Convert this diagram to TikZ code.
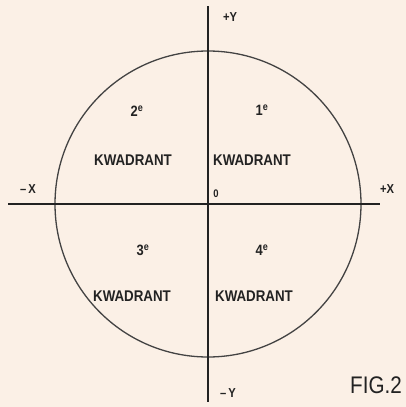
\documentclass[tikz,border=0pt]{standalone}
\usepackage{fontspec}
\setmainfont{Liberation Sans}
\definecolor{paper}{HTML}{FBF0E6}
\definecolor{ink}{HTML}{222222}
\newcommand{\cond}[1]{\scalebox{0.86}[1]{#1}}
\begin{document}
\begin{tikzpicture}[x=1pt,y=-1pt,
  axis/.style={draw=ink,line width=1.6pt},
  rim/.style={draw=ink!85,line width=1.3pt},
  lbl/.style={text=ink,font=\bfseries\fontsize{13}{13}\selectfont,inner sep=0pt},
  kw/.style={text=ink,font=\bfseries\fontsize{15.5}{15.5}\selectfont,inner sep=0pt},
  ord/.style={text=ink,font=\bfseries\fontsize{15}{15}\selectfont,inner sep=0pt}]
\fill[paper] (0,0) rectangle (406,407);
\useasboundingbox (0,0) rectangle (406,407);
\coordinate (O) at (208,204);
\coordinate (xl) at (8,204);
\coordinate (xr) at (380,204);
\coordinate (yt) at (208,6);
\coordinate (yb) at (208,402);
\draw[rim] (O) circle (153);
\draw[axis] (xl) -- (xr);
\draw[axis] (yt) -- (yb);
\node[lbl] (mx) at (28,189) {\cond{–\,X}};
\node[lbl] (px) at (387,189) {\cond{+X}};
\node[lbl] (py) at (230,17) {\cond{+Y}};
\node[lbl] (my) at (228,393) {\cond{–\,Y}};
\node[lbl,font=\bfseries\fontsize{11}{11}\selectfont] (zero) at (216,194) {\cond{0}};
\node[text=ink,font=\fontsize{24}{24}\selectfont,inner sep=0pt] (fig) at (376,385) {\cond{FIG.2}};
\node[ord] (q2) at (137,111) {\cond{2\textsuperscript{e}}};
\node[kw] (k2) at (133,160) {\cond{KWADRANT}};
\node[ord] (q1) at (262,110) {\cond{1\textsuperscript{e}}};
\node[kw] (k1) at (252,160) {\cond{KWADRANT}};
\node[ord] (q3) at (143,250) {\cond{3\textsuperscript{e}}};
\node[kw] (k3) at (132,296) {\cond{KWADRANT}};
\node[ord] (q4) at (262,250) {\cond{4\textsuperscript{e}}};
\node[kw] (k4) at (254,296) {\cond{KWADRANT}};
\end{tikzpicture}
\end{document}
